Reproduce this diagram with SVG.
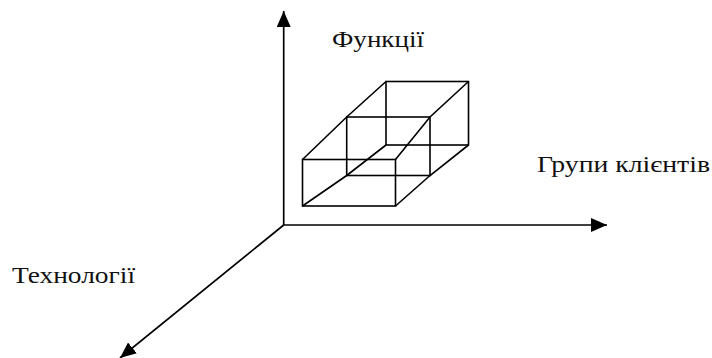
<svg xmlns="http://www.w3.org/2000/svg" width="712" height="358" viewBox="0 0 712 358">
<defs>
<style>
.ax{stroke:#000;stroke-width:1.7;fill:none}
.bx{stroke:#000;stroke-width:1.6;fill:none;stroke-linejoin:miter}
.lb{font-family:'Liberation Serif','DejaVu Serif',serif;font-size:24px;fill:#111}
</style>
<marker id="ah" viewBox="0 0 16 14" refX="16" refY="7" markerWidth="16" markerHeight="14" markerUnits="userSpaceOnUse" orient="auto">
<path d="M0,0 L16,7 L0,14 Z" fill="#000"/>
</marker>
</defs>
<rect width="712" height="358" fill="#fff"/>
<g id="connectors">
<line class="ax" x1="283.7" y1="225" x2="283.7" y2="11" marker-end="url(#ah)"/>
<line class="ax" x1="283.7" y1="225" x2="607" y2="225" marker-end="url(#ah)"/>
<line class="ax" x1="283.7" y1="225" x2="120" y2="358" marker-end="url(#ah)"/>
</g>
<g id="box">
<rect class="bx" x="386" y="81.5" width="82.5" height="63.5"/>
<rect class="bx" x="346.7" y="117" width="83.3" height="58.5"/>
<rect class="bx" x="302.5" y="159.5" width="93" height="46.5"/>
<polyline class="bx" points="302.5,159.5 346.7,117 386,81.5"/>
<polyline class="bx" points="395.5,159.5 430,117 468.5,81.5"/>
<polyline class="bx" points="302.5,206 346.7,175.5 386,145"/>
<polyline class="bx" points="395.5,206 430,175.5 468.5,145"/>
</g>
<g id="label-functions"><text class="lb" font-family="Liberation Serif, serif" x="332" y="46.5" textLength="92" lengthAdjust="spacingAndGlyphs">Функції</text></g>
<g id="label-groups"><text class="lb" font-family="Liberation Serif, serif" x="537" y="171.5" textLength="173" lengthAdjust="spacingAndGlyphs">Групи клієнтів</text></g>
<g id="label-tech"><text class="lb" font-family="Liberation Serif, serif" x="12" y="283" textLength="123" lengthAdjust="spacingAndGlyphs">Технології</text></g>
</svg>
